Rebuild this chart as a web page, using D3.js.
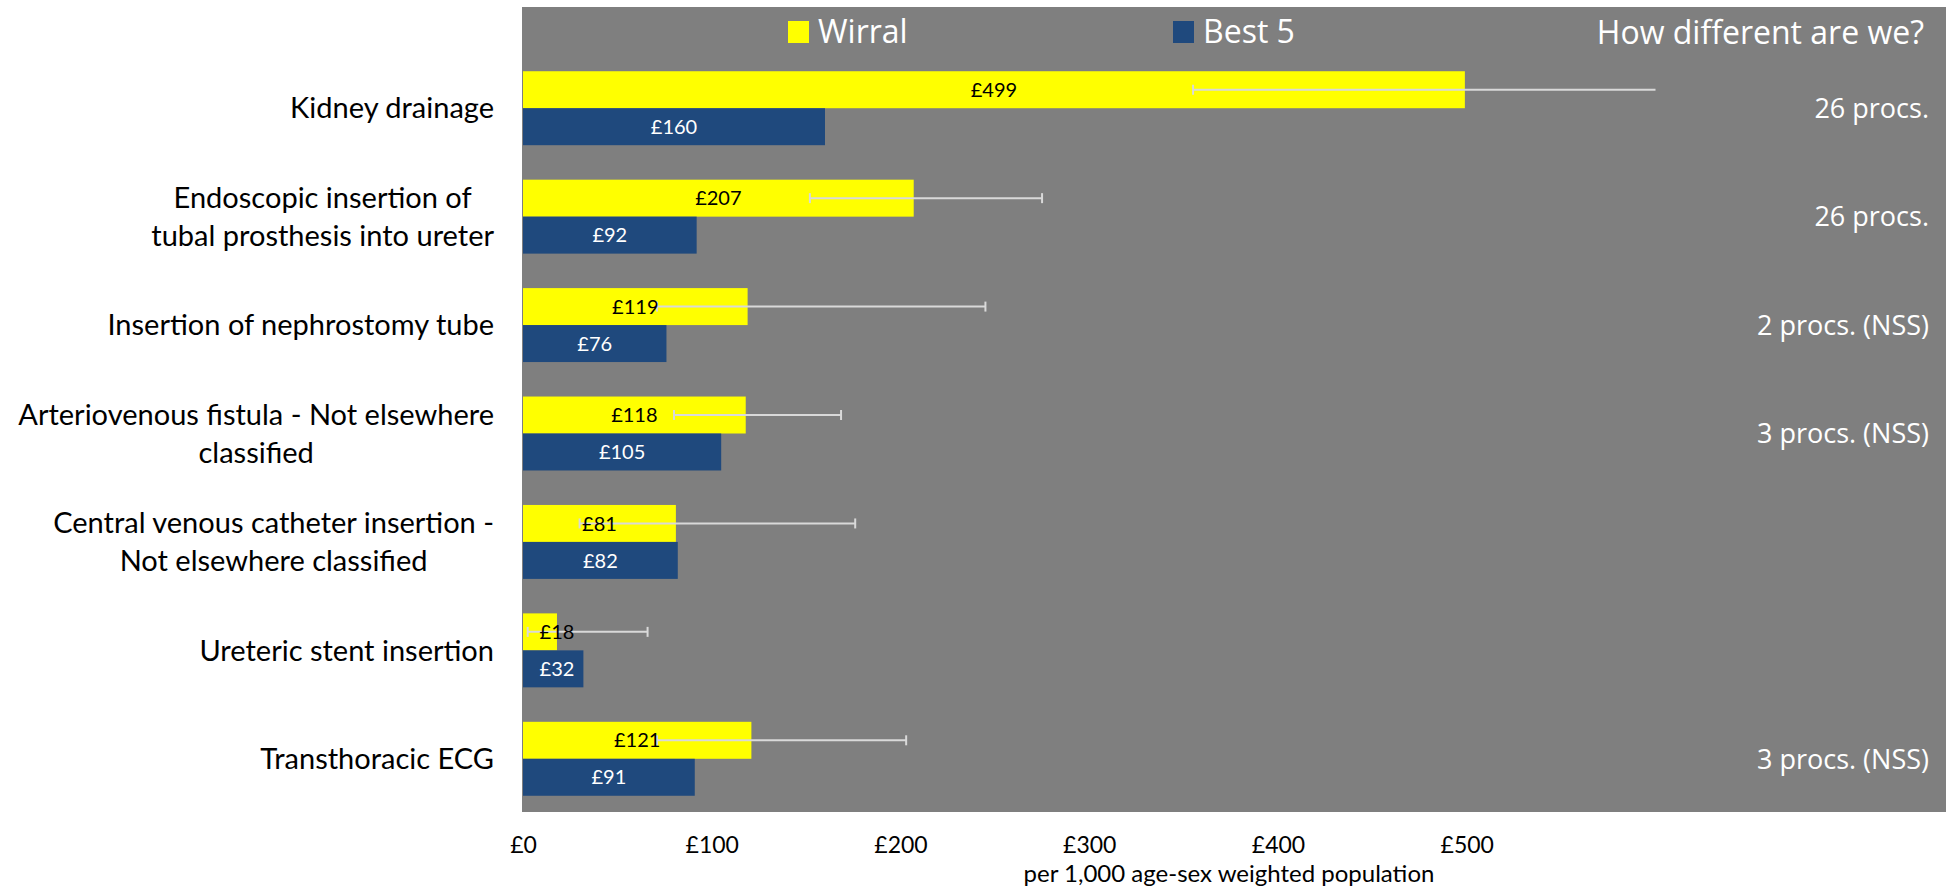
<!DOCTYPE html>
<html>
<head>
<meta charset="utf-8">
<script src="https://cdn.jsdelivr.net/npm/d3@7/dist/d3.min.js"></script>
<style>
  html, body { margin: 0; padding: 0; background: #ffffff; }
  svg { display: block; }
</style>
</head>
<body>
<svg id="chart" width="1951" height="890"></svg>
<script>
// ---------- data ----------
const categories = [
  "Kidney drainage",
  "Endoscopic insertion of\ntubal prosthesis into ureter",
  "Insertion of nephrostomy tube",
  "Arteriovenous fistula - Not elsewhere\nclassified",
  "Central venous catheter insertion -\nNot elsewhere classified",
  "Ureteric stent insertion",
  "Transthoracic ECG"
];
const wirralValues = [499, 207, 119, 118, 81, 18, 121];
const best5Values  = [160, 92, 76, 105, 82, 32, 91];
const errorLow     = [355, 152, 71, 80, 30, 2.5, 71];
const errorHigh    = [600, 275, 245, 168.5, 176, 66, 203];   // 600 = clipped at axis max
const procNotes    = ["26 procs.", "26 procs.", "2 procs. (NSS)", "3 procs. (NSS)", "", "", "3 procs. (NSS)"];
const xTickValues  = [0, 100, 200, 300, 400, 500];
const xTickLabels  = ["£0", "£100", "£200", "£300", "£400", "£500"];
const seriesNames  = ["Wirral", "Best 5"];
const xDomain      = [0, 600];

// ---------- style ----------
const C = {
  gray: "#7f7f7f",
  yellow: "#ffff00",
  blue: "#1f497d",
  err: "#d9d9d9"
};
const calibriLike = "Lato, 'Open Sans', sans-serif";
const segoeLike = "'Open Sans', 'Noto Sans', sans-serif";

const svg = d3.select("#chart");

const x = d3.scaleLinear().domain(xDomain).range([523, 1655.5]);
const y = d3.scaleBand().domain(categories).range([54, 813])
  .paddingInner(0.318).paddingOuter(0.159);
const sub = d3.scaleBand().domain(seriesNames).range([0, y.bandwidth()]);

// background panel (header + plot)
svg.append("rect").attr("x", 522).attr("y", 7).attr("width", 1424).attr("height", 805)
  .attr("fill", C.gray);

// legend
const legendItems = [
  {name: seriesNames[0], color: C.yellow, sx: 788, tx: 818},
  {name: seriesNames[1], color: C.blue, sx: 1173, tx: 1203}
];
legendItems.forEach(d => {
  svg.append("rect").attr("x", d.sx).attr("y", 21).attr("width", 21).attr("height", 22).attr("fill", d.color);
  svg.append("text").attr("x", d.tx).attr("y", 43).attr("fill", "#ffffff")
    .attr("font-family", segoeLike).attr("font-size", 32).text(d.name);
});
svg.append("text").attr("x", 1924).attr("y", 44).attr("text-anchor", "end").attr("fill", "#ffffff")
  .attr("font-family", segoeLike).attr("font-size", 32).text("How different are we?");

// bars
const rows = categories.map((c, i) => ({
  cat: c, w: wirralValues[i], b: best5Values[i], lo: errorLow[i], hi: errorHigh[i], note: procNotes[i]
}));

const g = svg.append("g");
g.selectAll("rect.wirral").data(rows).join("rect")
  .attr("class", "wirral")
  .attr("x", x(0)).attr("y", d => y(d.cat) + sub(seriesNames[0]))
  .attr("width", d => x(d.w) - x(0)).attr("height", sub.bandwidth())
  .attr("fill", C.yellow);
g.selectAll("rect.best").data(rows).join("rect")
  .attr("class", "best")
  .attr("x", x(0)).attr("y", d => y(d.cat) + sub(seriesNames[1]))
  .attr("width", d => x(d.b) - x(0)).attr("height", sub.bandwidth())
  .attr("fill", C.blue);

// error bars on Wirral
const eb = g.selectAll("g.err").data(rows).join("g").attr("class", "err")
  .attr("transform", d => `translate(0,${y(d.cat) + sub(seriesNames[0]) + sub.bandwidth() / 2})`);
eb.append("line").attr("x1", d => x(d.lo)).attr("x2", d => x(Math.min(d.hi, xDomain[1])))
  .attr("stroke", C.err).attr("stroke-width", 2);
eb.append("line").attr("x1", d => x(d.lo)).attr("x2", d => x(d.lo)).attr("y1", -5).attr("y2", 5)
  .attr("stroke", C.err).attr("stroke-width", 2);
eb.filter(d => d.hi < xDomain[1]).append("line")
  .attr("x1", d => x(d.hi)).attr("x2", d => x(d.hi)).attr("y1", -5).attr("y2", 5)
  .attr("stroke", C.err).attr("stroke-width", 2);

// data labels
const labelX = v => Math.max((x(0) + x(v)) / 2, x(0) + 34);
g.selectAll("text.wl").data(rows).join("text").attr("class", "wl")
  .attr("x", d => labelX(d.w))
  .attr("y", d => y(d.cat) + sub(seriesNames[0]) + sub.bandwidth() / 2)
  .attr("dy", "0.36em").attr("text-anchor", "middle")
  .attr("font-family", calibriLike).attr("font-size", 20).attr("fill", "#000000")
  .text(d => "£" + d.w);
g.selectAll("text.bl").data(rows).join("text").attr("class", "bl")
  .attr("x", d => labelX(d.b))
  .attr("y", d => y(d.cat) + sub(seriesNames[1]) + sub.bandwidth() / 2)
  .attr("dy", "0.36em").attr("text-anchor", "middle")
  .attr("font-family", calibriLike).attr("font-size", 20).attr("fill", "#ffffff")
  .text(d => "£" + d.b);

// category labels (right-aligned block, lines centred)
const catG = svg.append("g");
rows.forEach(d => {
  const lines = d.cat.split("\n");
  const cy = y(d.cat) + y.bandwidth() / 2;
  const t = catG.append("text").attr("font-family", calibriLike).attr("font-size", 29).attr("fill", "#000000");
  const lh = 38.3;
  const spans = lines.map((ln, i) => t.append("tspan")
    .attr("y", cy + (i - (lines.length - 1) / 2) * lh).attr("dy", "0.35em").text(ln));
  const widths = spans.map(s => s.node().getComputedTextLength());
  const maxW = d3.max(widths);
  const centre = 494 - maxW / 2;
  spans.forEach(s => s.attr("x", centre).attr("text-anchor", "middle"));
});

// notes on right
svg.append("g").selectAll("text").data(rows.filter(d => d.note)).join("text")
  .attr("x", 1929).attr("y", d => y(d.cat) + y.bandwidth() / 2).attr("dy", "0.36em")
  .attr("text-anchor", "end").attr("font-family", segoeLike).attr("font-size", 27).attr("fill", "#ffffff")
  .text(d => d.note);

// x axis (labels only)
const axis = d3.axisBottom(x).tickValues(xTickValues)
  .tickFormat((d, i) => xTickLabels[i]).tickSize(0).tickPadding(0);
const ax = svg.append("g").attr("transform", "translate(0,837)").call(axis);
ax.select(".domain").remove();
ax.selectAll("text").attr("font-family", calibriLike).attr("font-size", 23).attr("fill", "#000000")
  .attr("dy", "0.71em");

svg.append("text").attr("x", 1229).attr("y", 882).attr("text-anchor", "middle")
  .attr("font-family", calibriLike).attr("font-size", 24).attr("fill", "#000000")
  .text("per 1,000 age-sex weighted population");
</script>
</body>
</html>
